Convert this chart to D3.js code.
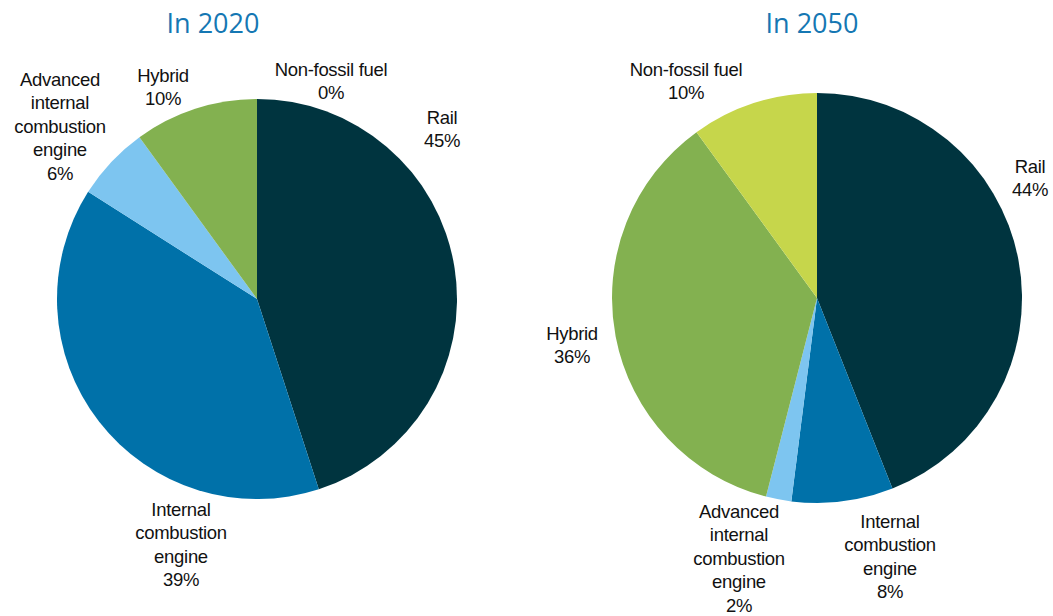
<!DOCTYPE html>
<html>
<head>
<meta charset="utf-8">
<script src="https://cdn.jsdelivr.net/npm/d3@7"></script>
<style>
  html, body { margin: 0; padding: 0; background: #fff; }
  svg { display: block; }
  .title { font-family: "Open Sans", "Noto Sans", sans-serif; font-size: 27px; fill: #1577b3; }
  .lbl { font-family: "Liberation Sans", Arial, sans-serif; font-size: 18.5px; fill: #111; letter-spacing: -0.3px; }
</style>
</head>
<body>
<svg id="chart" width="1053" height="616"></svg>
<script>
// Modal shares, clockwise from 12 o'clock
const categories = ["Rail", "Internal combustion engine", "Advanced internal combustion engine", "Hybrid", "Non-fossil fuel"];
const values2020 = [45, 39, 6, 10, 0];
const values2050 = [44, 8, 2, 36, 10];
const titles = ["In 2020", "In 2050"];
const colors = ["#00343f", "#0071a9", "#7dc5f0", "#83b150", "#c6d64b"];

// Label text lines per category (the percentage is appended)
const labelLines = {
  "Rail": ["Rail"],
  "Internal combustion engine": ["Internal", "combustion", "engine"],
  "Advanced internal combustion engine": ["Advanced", "internal", "combustion", "engine"],
  "Hybrid": ["Hybrid"],
  "Non-fossil fuel": ["Non-fossil fuel"]
};

// Per-pie layout: center, radius, title anchor and label anchors (center x, first baseline)
const panels = [
  {
    values: values2020, title: titles[0], cx: 257, cy: 299, r: 200, tx: 213, ty: 33,
    labels: [[442, 124], [181, 516], [60, 86], [163, 82], [331, 76]]
  },
  {
    values: values2050, title: titles[1], cx: 817, cy: 298, r: 205, tx: 812, ty: 33,
    labels: [[1030, 173], [890, 528], [739, 518], [572, 340], [686, 76]]
  }
];

const svg = d3.select("#chart");
const color = d3.scaleOrdinal().domain(categories).range(colors);
const pie = d3.pie().sort(null).value(d => d.value);
const lineH = 23.4;

panels.forEach(p => {
  const data = categories.map((c, i) => ({ cat: c, value: p.values[i] }));
  const arcs = pie(data);
  const arc = d3.arc().innerRadius(0).outerRadius(p.r);

  svg.append("text").attr("class", "title")
    .attr("x", p.tx).attr("y", p.ty).attr("text-anchor", "middle")
    .text(p.title);

  const g = svg.append("g").attr("transform", `translate(${p.cx},${p.cy})`);
  g.selectAll("path").data(arcs.filter(a => a.data.value > 0)).join("path")
    .attr("d", arc)
    .attr("fill", d => color(d.data.cat));

  arcs.forEach((a, i) => {
    const [lx, ly] = p.labels[i];
    const lines = labelLines[a.data.cat].concat([a.data.value + "%"]);
    const t = svg.append("text").attr("class", "lbl").attr("text-anchor", "middle");
    lines.forEach((s, k) => {
      t.append("tspan").attr("x", lx).attr("y", ly + k * lineH).text(s);
    });
  });
});
</script>
</body>
</html>
